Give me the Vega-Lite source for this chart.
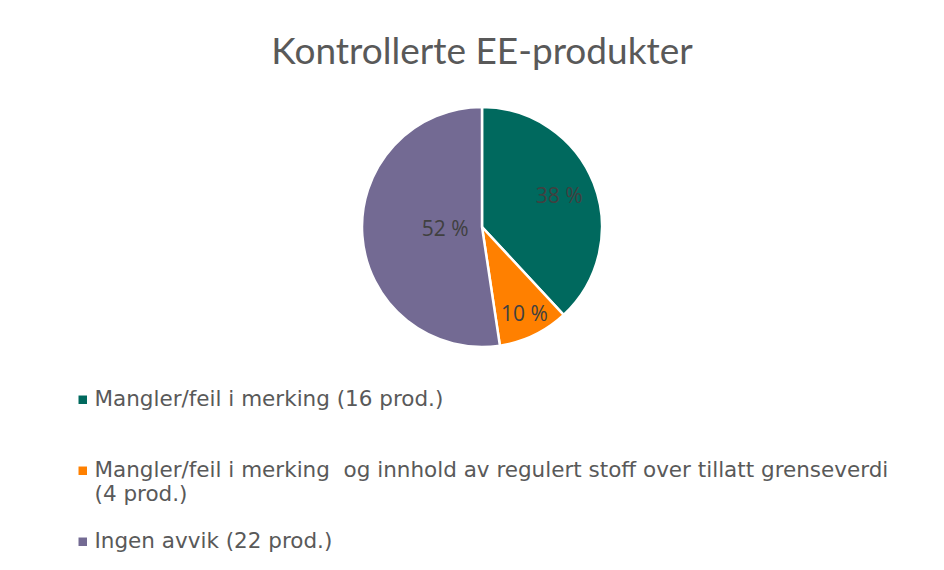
{
  "$schema": "https://vega.github.io/schema/vega-lite/v6.json",
  "width": 240,
  "height": 240,
  "autosize": {"type": "none"},
  "padding": {"left": 362, "top": 107, "right": 342, "bottom": 223},
  "background": "white",
  "title": {
    "text": "Kontrollerte EE-produkter",
    "font": "Lato",
    "fontSize": 37,
    "fontWeight": "normal",
    "color": "#595959",
    "anchor": "middle",
    "frame": "group",
    "offset": 30
  },
  "data": {
    "values": [
      {"kategori": "Mangler/feil i merking (16 prod.)", "antall": 16, "andel": "38 %", "nr": 1},
      {"kategori": "Mangler/feil i merking\u00a0 og innhold av regulert stoff over tillatt grenseverdi|(4 prod.)", "antall": 4, "andel": "10 %", "nr": 2},
      {"kategori": "Ingen avvik (22 prod.)", "antall": 22, "andel": "52 %", "nr": 3}
    ]
  },
  "encoding": {
    "theta": {"field": "antall", "type": "quantitative", "stack": true},
    "order": {"field": "nr", "type": "quantitative"}
  },
  "layer": [
    {
      "mark": {"type": "arc", "stroke": "white", "strokeWidth": 2.5},
      "encoding": {
        "color": {
          "field": "kategori",
          "type": "nominal",
          "scale": {
            "domain": [
              "Mangler/feil i merking (16 prod.)",
              "Mangler/feil i merking\u00a0 og innhold av regulert stoff over tillatt grenseverdi|(4 prod.)",
              "Ingen avvik (22 prod.)"
            ],
            "range": ["#00695E", "#FF8000", "#736A93"]
          },
          "legend": {
            "orient": "none",
            "legendX": -290,
            "legendY": 282,
            "title": null,
            "padding": 0,
            "symbolType": "square",
            "symbolSize": 72,
            "symbolStrokeWidth": 0,
            "symbolOpacity": 1,
            "labelFont": "DejaVu Sans",
            "labelFontSize": 21.5,
            "labelColor": "#595959",
            "labelLimit": 900,
            "labelOffset": 1,
            "rowPadding": 24,
            "labelBaseline": "middle",
            "labelExpr": "indexof(datum.label, '|') >= 0 ? split(datum.label, '|') : [datum.label, ' ']"
          }
        }
      }
    },
    {
      "mark": {"type": "text", "font": "Open Sans", "fontSize": 21, "color": "#404040"},
      "encoding": {
        "radius": {"value": 83},
        "text": {"condition": {"test": "datum.nr == 1", "field": "andel"}, "value": ""}
      }
    },
    {
      "mark": {"type": "text", "font": "Open Sans", "fontSize": 21, "color": "#404040"},
      "encoding": {
        "radius": {"value": 98},
        "text": {"condition": {"test": "datum.nr == 2", "field": "andel"}, "value": ""}
      }
    },
    {
      "mark": {"type": "text", "font": "Open Sans", "fontSize": 21, "color": "#404040"},
      "encoding": {
        "radius": {"value": 37},
        "text": {"condition": {"test": "datum.nr == 3", "field": "andel"}, "value": ""}
      }
    }
  ],
  "config": {
    "view": {"stroke": null},
    "style": {"guide-label": {"lineHeight": 24}}
  }
}
